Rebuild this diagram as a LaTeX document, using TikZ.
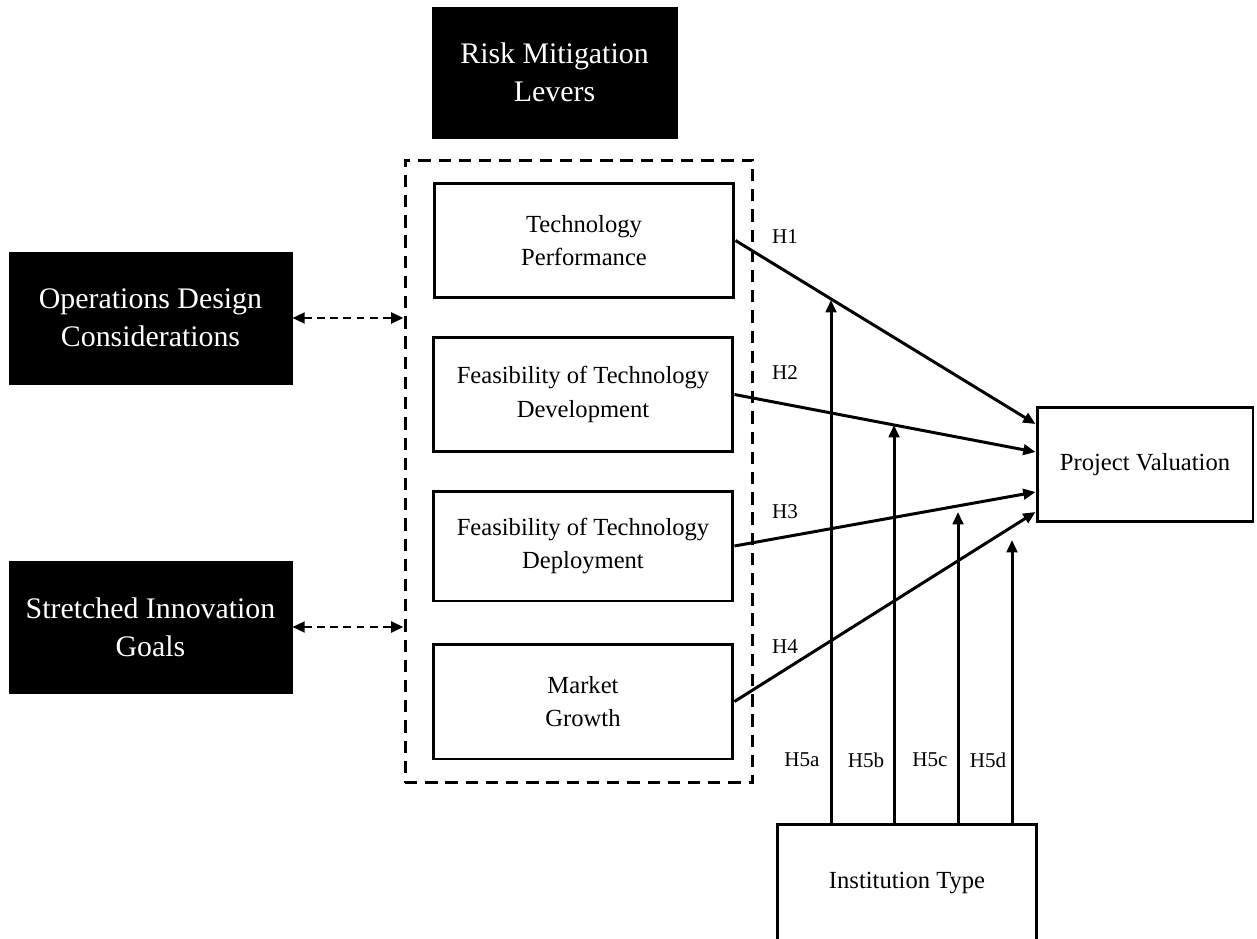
\documentclass[tikz,border=0pt]{standalone}
\usepackage{fontspec}
\setmainfont{Liberation Serif}
\usetikzlibrary{arrows.meta}

\begin{document}
\begin{tikzpicture}[x=0.02cm, y=-0.02cm,
    blackbox/.style={draw, fill=black, text=white, align=center, inner sep=0pt,
      font=\fontsize{17}{21.5}\selectfont},
    whitebox/.style={draw, line width=1.7pt, fill=white, align=center, inner sep=0pt,
      minimum width=6cm, minimum height=2.3cm, font=\fontsize{14}{19}\selectfont},
    link/.style={line width=1.7pt, -{Triangle[length=7pt,width=6pt]}},
    dlink/.style={line width=1.7pt, dash pattern=on 4.5pt off 3pt,
      {Triangle[length=7pt,width=6pt]}-{Triangle[length=7pt,width=6pt]}},
    hlabel/.style={font=\fontsize{12}{14}\selectfont}]
    \useasboundingbox (0,0) rectangle (1257,939);

    \node[blackbox, minimum width=4.9cm, minimum height=2.62cm] (risk) at (554.5, 72.5) {Risk Mitigation\\Levers};
    \node[blackbox, minimum width=5.66cm, minimum height=2.64cm] (ops) at (150.5, 318) {Operations Design\\Considerations};
    \node[blackbox, minimum width=5.66cm, minimum height=2.64cm] (goals) at (150.5, 627) {Stretched Innovation\\Goals};

    \node[draw, line width=1.7pt, dash pattern=on 7pt off 4.5pt, minimum width=6.96cm, minimum height=12.46cm] (levers) at (579, 471.5) {};
    \node[whitebox] (tp) at (584, 240.5) {Technology\\Performance};
    \node[whitebox] (fdev) at (583, 394.5) {Feasibility of Technology\\Development};
    \node[whitebox, minimum height=2.2cm] (fdep) at (583, 546) {Feasibility of Technology\\Deployment};
    \node[whitebox] (mg) at (583, 701.5) {Market\\Growth};

    \node[whitebox, minimum width=4.32cm] (pv) at (1145, 464.5) {Project Valuation};
    \node[whitebox, minimum width=5.2cm, minimum height=2.36cm] (it) at (907, 883) {Institution Type};

    \coordinate (h5a) at (831, 300);
    \coordinate (h5b) at (894, 425);
    \coordinate (h5c) at (958, 512);
    \coordinate (h5d) at (1012, 540);

    \draw[dlink] (ops.east) -- (ops.east -| levers.west);
    \draw[dlink] (goals.east) -- (goals.east -| levers.west);

    \draw[link] (tp.east) -- ([yshift=0.81cm]pv.west);
    \draw[link] (fdev.east) -- ([yshift=0.25cm]pv.west);
    \draw[link] (fdep.east) -- ([yshift=-0.55cm]pv.west);
    \draw[link] (mg.east) -- ([yshift=-0.95cm]pv.west);

    \draw[link] (it.north -| h5a) -- (h5a);
    \draw[link] (it.north -| h5b) -- (h5b);
    \draw[link] (it.north -| h5c) -- (h5c);
    \draw[link] (it.north -| h5d) -- (h5d);

    \node[hlabel] (l1) at (785, 237) {H1};
    \node[hlabel] (l2) at (785, 373) {H2};
    \node[hlabel] (l3) at (785, 512) {H3};
    \node[hlabel] (l4) at (785, 647) {H4};
    \node[hlabel] (l5a) at (802, 760) {H5a};
    \node[hlabel] (l5b) at (866, 760) {H5b};
    \node[hlabel] (l5c) at (930, 760) {H5c};
    \node[hlabel] (l5d) at (988, 760) {H5d};
\end{tikzpicture}
\end{document}
